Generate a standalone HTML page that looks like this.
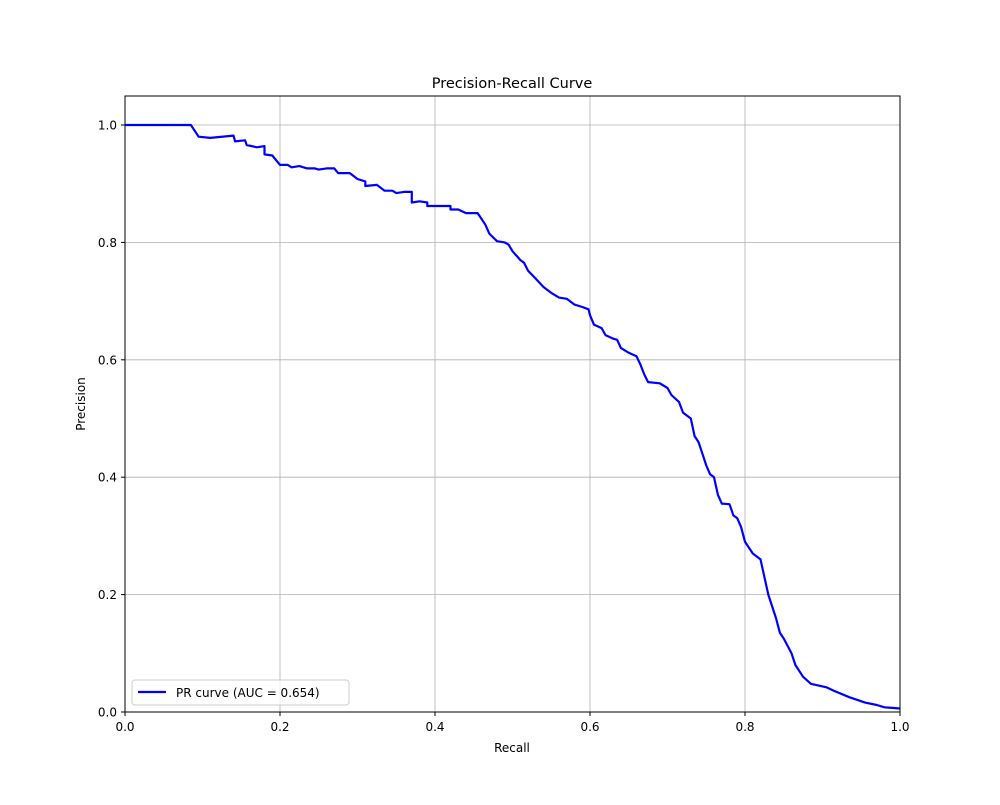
<!DOCTYPE html>
<html><head><meta charset="utf-8"><style>
body{margin:0;background:#fff;}
svg text{font-family:"DejaVu Sans","Liberation Sans",sans-serif;}
</style></head><body>
<svg width="1000" height="800" xmlns="http://www.w3.org/2000/svg">
<rect width="1000" height="800" fill="#fff"/>
<g id="grid"></g>
<g id="axes"></g>
<path id="curve" fill="none" stroke="#0000ff" stroke-width="2.2" stroke-linejoin="round"/>
<rect x="125" y="96" width="775" height="616" fill="none" stroke="#000" stroke-width="1"/>
<text x="512" y="88" font-size="14.5" text-anchor="middle">Precision-Recall Curve</text>
<text x="512" y="752" font-size="12" text-anchor="middle">Recall</text>
<text transform="translate(85,404) rotate(-90)" font-size="12" text-anchor="middle">Precision</text>
<g>
<rect x="132" y="680" width="217" height="25" rx="3" fill="#fff" fill-opacity="0.8" stroke="#ccc"/>
<line x1="138" y1="692" x2="166" y2="692" stroke="#0000ff" stroke-width="2.2"/>
<text x="176" y="697" font-size="12">PR curve (AUC = 0.654)</text>
</g>
</svg>
<script>
const recall=[0,0.085,0.095,0.11,0.14,0.142,0.155,0.157,0.17,0.18,0.18,0.19,0.2,0.21,0.215,0.225,0.235,0.245,0.25,0.26,0.27,0.275,0.29,0.3,0.31,0.31,0.325,0.335,0.345,0.35,0.36,0.37,0.37,0.38,0.39,0.39,0.41,0.42,0.42,0.43,0.44,0.455,0.46,0.465,0.47,0.48,0.49,0.495,0.5,0.51,0.515,0.52,0.53,0.54,0.55,0.56,0.57,0.58,0.59,0.598,0.6,0.605,0.615,0.62,0.63,0.635,0.64,0.65,0.66,0.665,0.67,0.675,0.69,0.7,0.705,0.715,0.72,0.73,0.735,0.74,0.745,0.75,0.755,0.76,0.765,0.77,0.78,0.785,0.79,0.795,0.8,0.805,0.81,0.815,0.82,0.83,0.84,0.845,0.85,0.86,0.865,0.875,0.885,0.905,0.915,0.935,0.955,0.97,0.98,1.0];
const precision=[1,1,0.98,0.978,0.982,0.972,0.974,0.966,0.962,0.964,0.95,0.948,0.932,0.932,0.928,0.93,0.926,0.926,0.924,0.926,0.926,0.918,0.918,0.908,0.904,0.896,0.898,0.888,0.888,0.884,0.886,0.886,0.868,0.87,0.868,0.862,0.862,0.862,0.856,0.856,0.85,0.85,0.84,0.83,0.815,0.802,0.8,0.796,0.785,0.77,0.765,0.752,0.738,0.724,0.714,0.706,0.704,0.694,0.69,0.686,0.676,0.66,0.654,0.642,0.636,0.634,0.62,0.612,0.606,0.592,0.575,0.562,0.56,0.552,0.54,0.528,0.51,0.5,0.47,0.46,0.44,0.42,0.405,0.4,0.37,0.355,0.354,0.335,0.33,0.315,0.29,0.28,0.27,0.265,0.26,0.2,0.16,0.135,0.125,0.1,0.08,0.06,0.048,0.042,0.036,0.025,0.016,0.012,0.008,0.006];
const xTicks=["0.0","0.2","0.4","0.6","0.8","1.0"];
const yTicks=["0.0","0.2","0.4","0.6","0.8","1.0"];
const X=v=>125+v*775, Y=v=>712-v*587;
const NS="http://www.w3.org/2000/svg";
const grid=document.getElementById('grid'), axes=document.getElementById('axes');
function mk(tag,attrs,parent){const e=document.createElementNS(NS,tag);for(const k in attrs)e.setAttribute(k,attrs[k]);parent.appendChild(e);return e;}
xTicks.forEach(t=>{const v=parseFloat(t),x=X(v);
 const g=mk('line',{x1:x,x2:x,y1:96,y2:712,stroke:'#b0b0b0','stroke-width':0.8},grid);
 
 
 mk('line',{x1:x,x2:x,y1:712,y2:716,stroke:'#000'},axes);
 const tx=mk('text',{x:x,y:731,'font-size':12,'text-anchor':'middle'},axes);tx.textContent=t;
 
 
});
yTicks.forEach(t=>{const v=parseFloat(t),y=Y(v);
 const g=mk('line',{x1:125,x2:900,y1:y,y2:y,stroke:'#b0b0b0','stroke-width':0.8},grid);
 
 
 mk('line',{x1:121,x2:125,y1:y,y2:y,stroke:'#000'},axes);
 const tx=mk('text',{x:117,y:y+4.5,'font-size':12,'text-anchor':'end'},axes);tx.textContent=t;
 
 
});
document.getElementById('curve').setAttribute('d',recall.map((r,i)=>(i?'L':'M')+X(r).toFixed(1)+','+Y(precision[i]).toFixed(1)).join(''));
</script>
</body></html>
